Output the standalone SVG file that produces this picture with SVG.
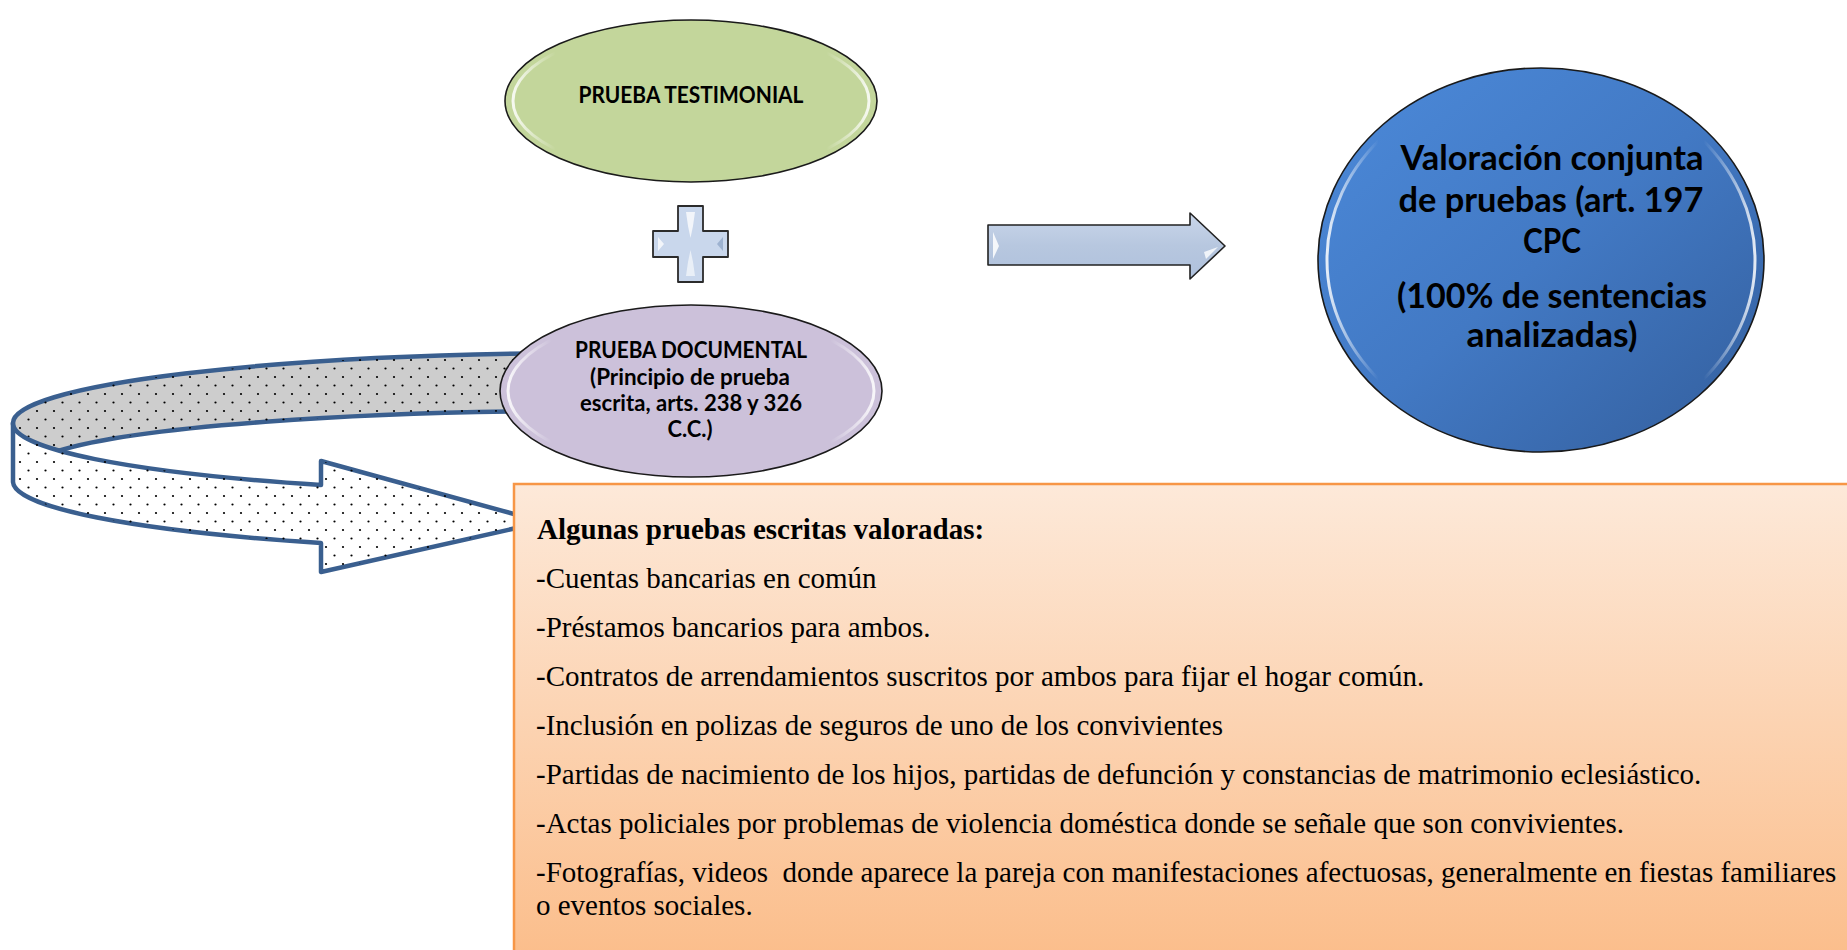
<svg xmlns="http://www.w3.org/2000/svg" width="1847" height="950" viewBox="0 0 1847 950">
<style>
.sans{font-family:Lato,"Open Sans","Liberation Sans",sans-serif;font-weight:bold;fill:#000;text-anchor:middle}
.serif{font-family:"Liberation Serif","Times New Roman",serif;font-size:29px;fill:#000}
.band{stroke:#3A5F8F;stroke-width:4.5;stroke-linejoin:round}
.node{stroke:#1a1a1a;stroke-width:1.6}
.rim{fill:none;stroke:url(#rim);stroke-width:3}
</style>
<defs>
<pattern id="dots" patternUnits="userSpaceOnUse" width="17" height="17">
<circle cx="3" cy="3" r="1.1" fill="#000"/>
<circle cx="11.5" cy="11.5" r="1.1" fill="#000"/>
</pattern>
<linearGradient id="rim" x1="0" y1="0" x2="1" y2="0">
<stop offset="0" stop-color="#fff" stop-opacity="0.85"/>
<stop offset="0.12" stop-color="#fff" stop-opacity="0"/>
<stop offset="0.88" stop-color="#fff" stop-opacity="0"/>
<stop offset="1" stop-color="#fff" stop-opacity="0.85"/>
</linearGradient>
<linearGradient id="blue" x1="0" y1="0" x2="1" y2="1">
<stop offset="0" stop-color="#4C8ADA"/>
<stop offset="0.5" stop-color="#4279C4"/>
<stop offset="1" stop-color="#335E9C"/>
</linearGradient>
<linearGradient id="orange" x1="0" y1="0" x2="0" y2="1">
<stop offset="0" stop-color="#FDE9D9"/>
<stop offset="1" stop-color="#FBBD8A"/>
</linearGradient>
<linearGradient id="steel" x1="0" y1="0" x2="0" y2="1">
<stop offset="0" stop-color="#C9D6EA"/>
<stop offset="0.5" stop-color="#B7C7DF"/>
<stop offset="1" stop-color="#AFC1DC"/>
</linearGradient>
</defs>

<g id="curved-arrow">
<path class="band" fill="#CDCDCD" d="M13 423 A587 70 0 0 1 600 353 L600 411 A560 58 0 0 0 58 451 A587 70 0 0 1 13 423 Z"/>
<path fill="url(#dots)" d="M13 423 A587 70 0 0 1 600 353 L600 411 A560 58 0 0 0 58 451 A587 70 0 0 1 13 423 Z"/>
</g>

<g id="prueba-testimonial">
<ellipse class="node" cx="691" cy="101" rx="186" ry="81" fill="#C3D69B"/>
<ellipse class="rim" cx="691" cy="101" rx="178" ry="74"/>
<text class="sans" x="691" y="103" font-size="23" textLength="225" lengthAdjust="spacingAndGlyphs">PRUEBA TESTIMONIAL</text>
</g>

<g id="plus">
<path d="M678 206 H703 V231 H728 V257 H703 V282 H678 V257 H653 V231 H678 Z" fill="#C9D7EC" stroke="#2b2b2b" stroke-width="1.8" stroke-linejoin="round"/>
<path d="M686 212 L695 212 L693 226 L690.5 238 L688 226 Z" fill="#fff" opacity="0.75"/>
<path d="M686 276 L695 276 L693 262 L690.5 250 L688 262 Z" fill="#fff" opacity="0.6"/>
<path d="M658 237 L664 244 L658 251 Z" fill="#fff" opacity="0.75"/>
<path d="M723 237 L717 244 L723 251 Z" fill="#98AECD" opacity="0.9"/>
</g>

<g id="prueba-documental">
<ellipse class="node" cx="691" cy="391" rx="191" ry="86" fill="#CCC1DA"/>
<ellipse class="rim" cx="691" cy="391" rx="183" ry="79"/>
<text class="sans" x="691" y="358" font-size="23" textLength="232" lengthAdjust="spacingAndGlyphs">PRUEBA DOCUMENTAL</text>
<text class="sans" x="690" y="385" font-size="23" textLength="200" lengthAdjust="spacingAndGlyphs">(Principio de prueba</text>
<text class="sans" x="691" y="411" font-size="23" textLength="222" lengthAdjust="spacingAndGlyphs">escrita, arts. 238 y 326</text>
<text class="sans" x="690" y="437" font-size="23" textLength="45" lengthAdjust="spacingAndGlyphs">C.C.)</text>
</g>

<g id="connectors">
<path class="band" fill="#fff" d="M13 423 A587 70 0 0 0 321 485 L321 461 L543 522 L321 572 L321 543 A587 70 0 0 1 13 482 Z"/>
<path fill="url(#dots)" d="M13 423 A587 70 0 0 0 321 485 L321 461 L543 522 L321 572 L321 543 A587 70 0 0 1 13 482 Z"/>
<path d="M988 225 H1190 V213 L1225 246 L1190 279 V265 H988 Z" fill="url(#steel)" stroke="#222" stroke-width="1.6" stroke-linejoin="round"/>
<path d="M993 232 L999 246 L993 259 Z" fill="#fff" opacity="0.85"/>
<path d="M1204 252 L1218 247 L1206 259 Z" fill="#fff" opacity="0.8"/>
</g>

<g id="valoracion">
<ellipse cx="1541" cy="260" rx="223" ry="192" fill="url(#blue)" stroke="#1a1a1a" stroke-width="1.6"/>
<ellipse class="rim" cx="1541" cy="260" rx="214" ry="183"/>
<text class="sans" x="1552" y="170" font-size="34" textLength="303" lengthAdjust="spacingAndGlyphs">Valoración conjunta</text>
<text class="sans" x="1551" y="212" font-size="34" textLength="305" lengthAdjust="spacingAndGlyphs">de pruebas (art. 197</text>
<text class="sans" x="1552" y="253" font-size="34" textLength="58" lengthAdjust="spacingAndGlyphs">CPC</text>
<text class="sans" x="1552" y="308" font-size="34" textLength="310" lengthAdjust="spacingAndGlyphs">(100% de sentencias</text>
<text class="sans" x="1552" y="347" font-size="34" textLength="171" lengthAdjust="spacingAndGlyphs">analizadas)</text>
</g>

<g id="pruebas-escritas">
<rect x="514" y="484" width="1345" height="480" fill="url(#orange)" stroke="#F79646" stroke-width="2.5"/>
<text class="serif" x="537" y="539" font-weight="bold">Algunas pruebas escritas valoradas:</text>
<text class="serif" x="536" y="588">-Cuentas bancarias en común</text>
<text class="serif" x="536" y="637">-Préstamos bancarios para ambos.</text>
<text class="serif" x="536" y="686">-Contratos de arrendamientos suscritos por ambos para fijar el hogar común.</text>
<text class="serif" x="536" y="735">-Inclusión en polizas de seguros de uno de los convivientes</text>
<text class="serif" x="536" y="784">-Partidas de nacimiento de los hijos, partidas de defunción y constancias de matrimonio eclesiástico.</text>
<text class="serif" x="536" y="833">-Actas policiales por problemas de violencia doméstica donde se señale que son convivientes.</text>
<text class="serif" x="536" y="882" xml:space="preserve">-Fotografías, videos  donde aparece la pareja con manifestaciones afectuosas, generalmente en fiestas familiares</text>
<text class="serif" x="536" y="915">o eventos sociales.</text>
</g>
</svg>
